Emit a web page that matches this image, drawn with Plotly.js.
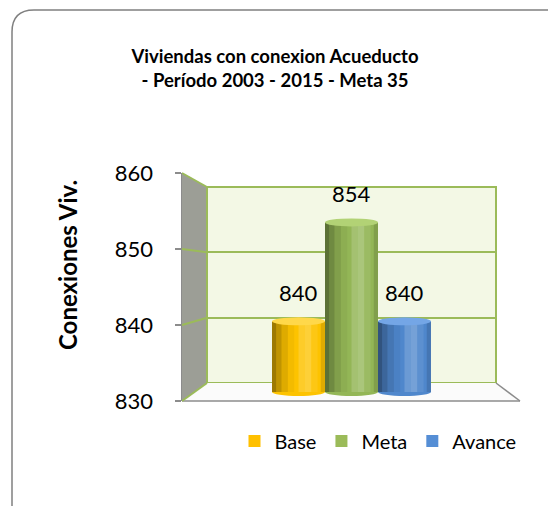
<!DOCTYPE html>
<html>
<head>
<meta charset="utf-8">
<script src="https://cdn.plot.ly/plotly-3.0.1.min.js"></script>
<style>html,body{margin:0;padding:0;background:#fff;}#chart{width:548px;height:506px;}</style>
</head>
<body>
<div id="chart"></div>
<script>
// ---- data ----
const category = ['Acueducto'];
const seriesNames = ['Base', 'Meta', 'Avance'];
const seriesValues = [840, 854, 840];
const seriesLabels = ['840', '854', '840'];
const yTickValues = [830, 840, 850, 860];
const yTickLabels = ['830', '840', '850', '860'];
const chartTitle = 'Viviendas con conexion Acueducto<br>- Período 2003 - 2015 - Meta 35';
const yTitle = 'Conexiones Viv.';

// ---- styles ----
const W = 548, H = 506;
const barColors = ['#fdc300', '#93b656', '#4f87cc'];
const topColors = ['#ffd84a', '#b2d275', '#74a6e6'];
const legendColors = ['#ffc000', '#9bbb59', '#558ed5'];
const green = '#9bbb59';
const yRange = [830, 860];
const bargap = 0.45;

const fx = p => p / W;
const fy = p => 1 - p / H;
const XD = [fx(207), fx(496)];          // back wall / bar x domain
const YD = [fy(392), fy(180)];          // bars (mid depth)
const YF = [fy(401), fy(173)];          // front axis
const YB = [fy(383), fy(187)];          // back wall
const FRONT_X = fx(182);
const FLOOR_R = fx(520);

const py = (v, D) => D[0] + (v - yRange[0]) / (yRange[1] - yRange[0]) * (D[1] - D[0]);
const pxc = c => XD[0] + (c + 0.5) * (XD[1] - XD[0]);
const barW = (1 - bargap) / seriesNames.length;
const barCenter = i => -(1 - bargap) / 2 + (i + 0.5) * barW;

// helper traces that only carry the back-wall grid axis (y) and the front tick axis (y2)
const traces = [
  {type: 'scatter', x: category, y: [null], xaxis: 'x', yaxis: 'y', showlegend: false, hoverinfo: 'skip', mode: 'markers'},
  {type: 'scatter', x: category, y: [null], xaxis: 'x2', yaxis: 'y2', showlegend: false, hoverinfo: 'skip', mode: 'markers'}
];
seriesNames.forEach((n, i) => traces.push({
  type: 'bar', name: n, x: category, y: [seriesValues[i]],
  marker: {color: barColors[i], line: {width: 0}},
  xaxis: 'x', yaxis: 'y3', hoverinfo: 'name+y'
}));

const shapes = [];
// outer rounded frame
const L = fx(12), T = fy(10), r = 22;
shapes.push({type: 'path', xref: 'paper', yref: 'paper', layer: 'below',
  path: `M ${L} ${fy(520)} L ${L} ${fy(10 + r)} Q ${L} ${T} ${fx(12 + r)} ${T} L ${fx(560)} ${T}`,
  line: {color: '#808080', width: 1.5}});
// back wall
shapes.push({type: 'rect', xref: 'paper', yref: 'paper', layer: 'below',
  x0: XD[0], x1: XD[1], y0: YB[0], y1: YB[1], fillcolor: '#f3f8e5', line: {color: green, width: 2}});
// side wall
shapes.push({type: 'path', xref: 'paper', yref: 'paper', layer: 'below',
  path: `M ${FRONT_X} ${YF[1]} L ${XD[0]} ${YB[1]} L ${XD[0]} ${YB[0]} L ${FRONT_X} ${YF[0]} Z`,
  fillcolor: '#9c9e96', line: {width: 0}});
// floor
shapes.push({type: 'path', xref: 'paper', yref: 'paper', layer: 'below',
  path: `M ${FRONT_X} ${YF[0]} L ${XD[0]} ${YB[0]} L ${XD[1]} ${YB[0]} L ${FLOOR_R} ${YF[0]} Z`,
  fillcolor: '#fbfbfb', line: {width: 0}});
shapes.push({type: 'line', xref: 'paper', yref: 'paper', layer: 'below',
  x0: XD[1], x1: FLOOR_R, y0: YB[0], y1: YF[0], line: {color: '#8c8c8c', width: 1.5}});
shapes.push({type: 'line', xref: 'paper', yref: 'paper', layer: 'below',
  x0: FRONT_X, x1: FLOOR_R, y0: YF[0], y1: YF[0], line: {color: '#8c8c8c', width: 1.5}});
// side wall gridlines
yTickValues.forEach(v => {
  shapes.push({type: 'line', xref: 'paper', yref: 'paper', layer: 'below',
    x0: FRONT_X, x1: XD[0], y0: py(v, YF), y1: py(v, YB), line: {color: green, width: 2}});
});
shapes.push({type: 'line', xref: 'paper', yref: 'paper', layer: 'below',
  x0: XD[0], x1: XD[0], y0: YB[0], y1: YB[1], line: {color: green, width: 2}});

// cylinder look
const ry = 4 / H;
seriesValues.forEach((v, i) => {
  const c = barCenter(i);
  const x0 = pxc(c - barW / 2), x1 = pxc(c + barW / 2), w = x1 - x0;
  const yb = py(yRange[0], YD), yt = py(v, YD);
  shapes.push({type: 'circle', xref: 'paper', yref: 'paper', layer: 'below',
    x0: x0, x1: x1, y0: yb - ry, y1: yb + ry, fillcolor: barColors[i], line: {width: 0}});
  const strips = [[0, 0.08, 'rgba(0,0,0,0.38)'], [0.08, 0.18, 'rgba(0,0,0,0.24)'], [0.18, 0.3, 'rgba(0,0,0,0.12)'],
                  [0.3, 0.42, 'rgba(0,0,0,0.04)'], [0.5, 0.62, 'rgba(255,255,255,0.16)'], [0.62, 0.74, 'rgba(255,255,255,0.22)'],
                  [0.74, 0.86, 'rgba(255,255,255,0.08)'], [0.92, 1, 'rgba(0,0,0,0.12)']];
  strips.forEach(s => shapes.push({type: 'rect', xref: 'paper', yref: 'paper', layer: 'above',
    x0: x0 + s[0] * w, x1: x0 + s[1] * w, y0: yb, y1: yt, fillcolor: s[2], line: {width: 0}}));
  shapes.push({type: 'circle', xref: 'paper', yref: 'paper', layer: 'above',
    x0: x0, x1: x1, y0: yt - ry, y1: yt + ry, fillcolor: topColors[i], line: {width: 0}});
});

const annotations = seriesValues.map((v, i) => ({
  xref: 'x', yref: 'y3', x: barCenter(i), y: v, yshift: 29, showarrow: false,
  text: seriesLabels[i], font: {family: 'Lato', size: 22, color: '#000'}, xanchor: 'center', yanchor: 'middle'
}));
annotations.push({xref: 'paper', yref: 'paper', x: fx(67), y: fy(265), showarrow: false, textangle: -90,
  text: yTitle, font: {family: 'Lato', size: 24, color: '#000', weight: 'bold'}, xanchor: 'center', yanchor: 'middle'});

const layout = {
  width: W, height: H, autosize: false,
  margin: {l: 0, r: 0, t: 0, b: 0},
  paper_bgcolor: '#ffffff', plot_bgcolor: 'rgba(0,0,0,0)',
  font: {family: 'Lato', color: '#000'},
  title: {text: chartTitle, x: fx(275), xanchor: 'center', y: fy(63), yanchor: 'top',
    font: {family: 'Lato', size: 18.5, color: '#000', weight: 'bold'}},
  barmode: 'group', bargap: bargap, bargroupgap: 0,
  showlegend: true,
  legend: {orientation: 'h', x: fx(378), xanchor: 'center', y: fy(441), yanchor: 'middle',
    font: {family: 'Lato', size: 20, color: '#000'}, bgcolor: 'rgba(0,0,0,0)', traceorder: 'normal'},
  xaxis: {domain: XD, type: 'category', range: [-0.5, 0.5], visible: false, fixedrange: true},
  xaxis2: {domain: [FRONT_X, fx(520)], type: 'category', range: [-0.5, 0.5], visible: false, fixedrange: true, anchor: 'y2'},
  yaxis: {domain: YB, range: yRange, anchor: 'x', showgrid: true, gridcolor: green, gridwidth: 2,
    zeroline: false, showline: false, showticklabels: false, ticks: '', tickmode: 'array', tickvals: yTickValues, fixedrange: true},
  yaxis2: {domain: YF, range: yRange, anchor: 'x2', showgrid: false, zeroline: false,
    showline: true, linecolor: '#8c8c8c', linewidth: 1.5, ticks: 'outside', ticklen: 6, tickcolor: '#8c8c8c', tickwidth: 1.5,
    tickmode: 'array', tickvals: yTickValues, ticktext: yTickLabels, ticklabelstandoff: 17,
    tickfont: {family: 'Lato', size: 22, color: '#000'}, fixedrange: true},
  yaxis3: {domain: YD, range: yRange, anchor: 'x', visible: false, fixedrange: true},
  shapes: shapes,
  annotations: annotations
};

Plotly.newPlot('chart', traces, layout, {displayModeBar: false, staticPlot: true}).then(gd => {
  const pts = gd.querySelectorAll('.legend .traces .legendpoints path');
  pts.forEach((p, i) => { if (legendColors[i]) p.style.fill = legendColors[i]; });
});
</script>
</body>
</html>
